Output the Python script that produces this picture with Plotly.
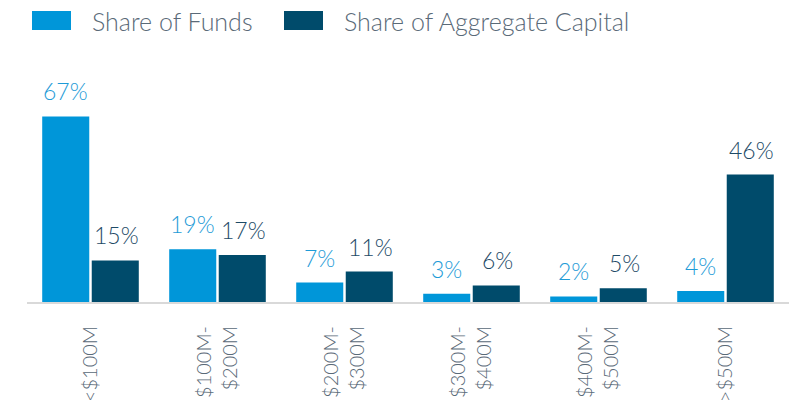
import plotly.graph_objects as go

categories = ["<$100M", "$100M-<br>$200M", "$200M-<br>$300M", "$300M-<br>$400M", "$400M-<br>$500M", ">$500M"]
share_of_funds = [67, 19, 7, 3, 2, 4]
share_of_capital = [15, 17, 11, 6, 5, 46]
series_names = ["Share of Funds", "Share of Aggregate Capital"]

LIGHT = "#0096D9"
DARK = "#004B6B"
LIGHT_TXT = "#1E9BD7"
DARK_TXT = "#1D4A66"
GREY_TXT = "#5A6A78"
FONT = "Lato, 'Open Sans', sans-serif"

OFF = 8  # page body margin
W, H = 800, 400
PLOT_L, PLOT_R, PLOT_T, PLOT_B = 27, 789, 84, 302  # screen pixels
ML, MR, MT, MB = PLOT_L - OFF, W - (PLOT_R - OFF), PLOT_T - OFF, H - (PLOT_B - OFF)
PH = PLOT_B - PLOT_T
PW = PLOT_R - PLOT_L

def py(screen_y):
    return (PLOT_B - screen_y) / PH

def px(screen_x):
    return (screen_x - PLOT_L) / PW

fig = go.Figure()
fig.add_trace(go.Bar(
    x=categories, y=share_of_funds, name=series_names[0],
    marker=dict(color=LIGHT, line=dict(width=0)),
    showlegend=False, cliponaxis=False,
))
fig.add_trace(go.Bar(
    x=categories, y=share_of_capital, name=series_names[1],
    marker=dict(color=DARK, line=dict(width=0)),
    showlegend=False, cliponaxis=False,
))

# value labels above bars (data-driven positions)
for vals, col, shift in [(share_of_funds, LIGHT_TXT, -25.5), (share_of_capital, DARK_TXT, 25.5)]:
    for c, v in zip(categories, vals):
        fig.add_annotation(x=c, y=v, xref="x", yref="y", text=f"{v}%", showarrow=False,
                           xanchor="center", yanchor="bottom", xshift=shift, yshift=9,
                           font=dict(size=23, color=col, family=FONT, weight=300))

# custom legend
legend_items = [(32, LIGHT, series_names[0]), (284, DARK, series_names[1])]
for x0, col, name in legend_items:
    fig.add_shape(type="rect", xref="paper", yref="paper",
                  x0=px(x0), x1=px(x0 + 39), y0=py(30), y1=py(11),
                  fillcolor=col, line=dict(width=0))
    fig.add_annotation(xref="paper", yref="paper", x=px(x0 + 58), y=py(21),
                       text=name, showarrow=False, xanchor="left", yanchor="middle",
                       font=dict(size=25, color=GREY_TXT, family=FONT, weight=300))

fig.update_layout(
    width=W, height=H,
    margin=dict(l=ML, r=MR, t=MT, b=MB),
    paper_bgcolor="white", plot_bgcolor="white",
    barmode="group", bargap=0.22, bargroupgap=0.05,
    font=dict(family=FONT),
)
fig.update_xaxes(
    showline=True, linecolor="#D9D9D9", linewidth=2,
    ticks="", tickangle=-90, automargin=False, ticklabelstandoff=14,
    tickfont=dict(size=20, color=GREY_TXT, family=FONT, weight=300),
    showgrid=False,
)
fig.update_yaxes(visible=False, range=[0, 78.7], showgrid=False)

fig.write_html("out.html")
